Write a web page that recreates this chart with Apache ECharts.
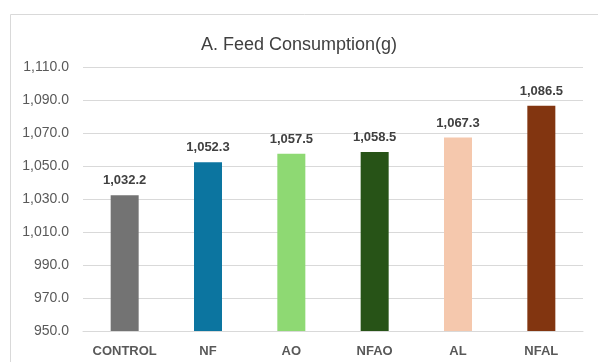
<!DOCTYPE html>
<html>
<head>
<meta charset="utf-8">
<script src="https://cdn.jsdelivr.net/npm/echarts@6/dist/echarts.min.js"></script>
<style>
  html, body { margin: 0; padding: 0; background: #fff; }
  #chart { width: 598px; height: 362px; }
</style>
</head>
<body>
<div id="chart"></div>
<script>
const categories = ['CONTROL', 'NF', 'AO', 'NFAO', 'AL', 'NFAL'];
const feedValues = [1032.2, 1052.3, 1057.5, 1058.5, 1067.3, 1086.5];
const barColors = ['#737373', '#0c75a0', '#8ed973', '#275317', '#f5c8ad', '#823510'];

const fmt = v => v.toLocaleString('en-US', { minimumFractionDigits: 1, maximumFractionDigits: 1 });

const chart = echarts.init(document.getElementById('chart'), null, { renderer: 'canvas' });

chart.setOption({
  animation: false,
  textStyle: { fontFamily: 'Liberation Sans' },
  graphic: [
    {
      type: 'rect',
      shape: { x: 10.5, y: 14.5, width: 600, height: 360 },
      style: { fill: 'none', stroke: '#d9d9d9', lineWidth: 1 },
      silent: true,
    },
  ],
  title: {
    text: 'A. Feed Consumption(g)',
    left: 'center',
    top: 31,
    textStyle: { fontSize: 18, fontWeight: 'normal', color: '#404040', fontFamily: 'Liberation Sans' },
  },
  grid: { left: 83, right: 15, top: 67, bottom: 31 },
  xAxis: {
    type: 'category',
    data: categories,
    axisLine: { lineStyle: { color: '#d9d9d9' } },
    axisTick: { show: false },
    axisLabel: { interval: 0, color: '#595959', fontWeight: 'bold', fontSize: 13, margin: 14 },
  },
  yAxis: {
    type: 'value',
    min: 950,
    max: 1110,
    interval: 20,
    axisLine: { show: false },
    axisTick: { show: false },
    splitLine: { lineStyle: { color: '#d9d9d9' } },
    axisLabel: { color: '#595959', fontSize: 14, margin: 14, formatter: fmt },
  },
  series: [
    {
      type: 'bar',
      barWidth: 28,
      data: feedValues.map((v, i) => ({ value: v, itemStyle: { color: barColors[i] } })),
      label: {
        show: true,
        position: 'top',
        distance: 8,
        color: '#404040',
        fontWeight: 'bold',
        fontSize: 13,
        formatter: p => fmt(p.value),
      },
    },
  ],
});
</script>
</body>
</html>
